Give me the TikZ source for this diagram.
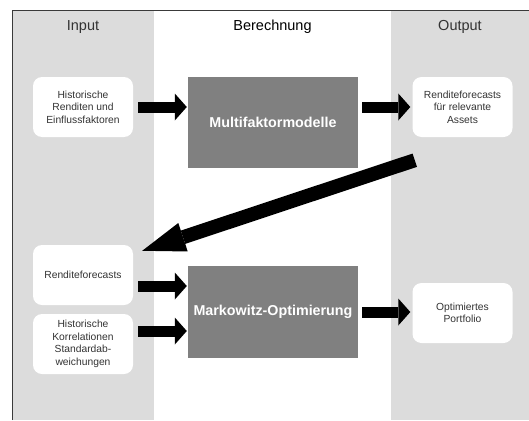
\documentclass[tikz,border=0pt]{standalone}
\usepackage{fontspec}
\setmainfont{Liberation Sans}
\usetikzlibrary{arrows.meta,calc}
\definecolor{band}{HTML}{DCDCDC}
\definecolor{boxgray}{HTML}{808080}
\definecolor{framec}{HTML}{3A3A3A}
\definecolor{smalltext}{HTML}{333333}
\begin{document}
\begin{tikzpicture}[x=1pt,y=-1pt,
  inbox/.style={fill=white, rounded corners=9pt, minimum width=100pt, minimum height=60pt,
    inner sep=0pt, align=center, font=\fontsize{10.3}{12.5}\selectfont, text=smalltext},
  calcbox/.style={fill=boxgray, minimum width=170pt, inner sep=0pt, text=white,
    font=\fontsize{14.3}{17}\selectfont\bfseries},
  coltitle/.style={font=\fontsize{14.5}{17}\selectfont},
  barrow/.style={line width=11pt, -{Triangle[length=12pt,width=27pt,line width=0pt]}},
  darrow/.style={line width=14pt, -{Triangle[length=43pt,width=30pt,line width=0pt]}}]
\useasboundingbox (0,0) rectangle (529,420);
% column bands
\fill[band] (12,11) rectangle (154,420);
\fill[band] (391,11) rectangle (529,420);
\draw[framec, line width=1pt] (12,420) -- (12,11) -- (529,11);
% titles
\node[coltitle, text=black!80] (tin) at (83,27) {Input};
\node[coltitle] (tcalc) at (272.5,27) {Berechnung};
\node[coltitle, text=black!80] (tout) at (460,27) {Output};
% input / output boxes
\node[inbox] (in1) at (83,107) {Historische\\Renditen und\\Einflussfaktoren};
\node[inbox] (out1) at (462.5,107) {Renditeforecasts\\für relevante\\Assets};
\node[inbox] (in2) at (83,275) {Renditeforecasts};
\node[inbox] (in3) at (83,344) {Historische\\Korrelationen\\Standardab-\\weichungen};
\node[inbox] (out2) at (462.5,313) {Optimiertes\\Portfolio};
% calculation boxes
\node[calcbox, minimum height=91pt] (multi) at (273,122.5) {Multifaktormodelle};
\node[calcbox, minimum height=92pt] (mark) at (273,312) {Markowitz-Optimierung};
% arrows
\draw[barrow] ($(in1.east)+(5,0)$) -- ($(multi.west |- in1.east)+(-1,0)$);
\draw[barrow] ($(multi.east |- out1.west)+(4,0)$) -- ($(out1.west)+(-2,0)$);
\draw[barrow] ($(in2.east)+(5,11)$) -- ($(mark.west |- in2.east)+(-1,11)$);
\draw[barrow] ($(in3.east)+(5,-13)$) -- ($(mark.west |- in3.east)+(-1,-13)$);
\draw[barrow] ($(mark.east)+(4,0)$) -- ($(out2.west |- mark.east)+(-2,0)$);
\coordinate (dtail) at ($(out1.south west)+(2.5,23)$);
\coordinate (dtip) at ($(in2.north east)+(9,6)$);
\draw[darrow] (dtail) -- (dtip);
\end{tikzpicture}
\end{document}
